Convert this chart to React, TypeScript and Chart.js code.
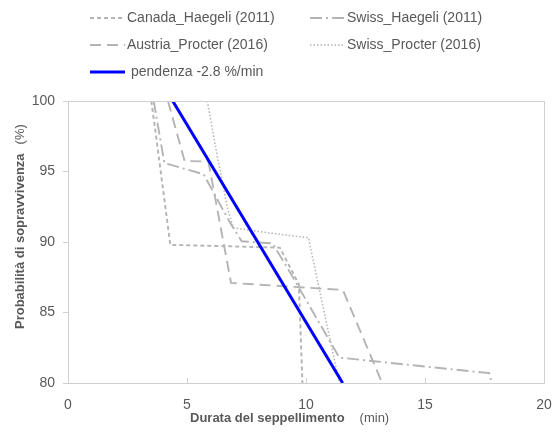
import React, { useEffect, useRef } from "react";
import { Chart, registerables } from "chart.js";
Chart.register(...registerables);

// ---- data (minutes, survival %) ----
const canadaX = [3.5, 3.7, 4.3, 8.9, 9.7, 9.85];
const canadaY = [100, 97.5, 89.8, 89.6, 87.0, 80];

const swissHaegeliX = [3.6, 4.05, 5.7, 6.15, 6.8, 7.3, 8.6, 9.45, 11.4, 17.7, 17.8];
const swissHaegeliY = [100, 95.6, 94.8, 93.4, 91.4, 90.05, 89.9, 87.5, 81.8, 80.7, 80];

const austriaX = [4.2, 4.9, 5.9, 6.85, 11.55, 13.2];
const austriaY = [100, 95.75, 95.7, 87.1, 86.6, 80];

const swissProcterX = [5.85, 6.25, 6.7, 6.95, 8.2, 10.1, 11.4];
const swissProcterY = [100, 96.3, 92.4, 91.0, 90.7, 90.3, 80];

const slopeX = [4.4, 11.54];
const slopeY = [100, 80];

const xTickValues = [0, 5, 10, 15, 20];
const yTickValues = [80, 85, 90, 95, 100];

const labels = [
  "Canada_Haegeli (2011)",
  "Swiss_Haegeli (2011)",
  "Austria_Procter (2016)",
  "Swiss_Procter (2016)",
  "pendenza -2.8 %/min",
];

const pts = (xs: number[], ys: number[]) => xs.map((x, i) => ({ x, y: ys[i] }));

const GREY = "#b4b4b4";
const TEXT = "#595959";
const FONT = "'Liberation Sans', Arial, sans-serif";

export default function App() {
  const ref = useRef<HTMLCanvasElement | null>(null);
  useEffect(() => {
    document.body.style.margin = "0";
    const canvas = ref.current;
    if (!canvas) return;

    const datasets: any[] = [
      { label: labels[0], data: pts(canadaX, canadaY), borderColor: GREY, borderWidth: 1.9, borderDash: [4, 3], order: 1 },
      { label: labels[1], data: pts(swissHaegeliX, swissHaegeliY), borderColor: GREY, borderWidth: 1.9, borderDash: [12, 4, 2, 4], order: 1 },
      { label: labels[2], data: pts(austriaX, austriaY), borderColor: GREY, borderWidth: 1.9, borderDash: [11, 6], order: 1 },
      { label: labels[3], data: pts(swissProcterX, swissProcterY), borderColor: GREY, borderWidth: 1.5, borderDash: [1.5, 2], order: 1 },
      { label: labels[4], data: pts(slopeX, slopeY), borderColor: "#0000ff", borderWidth: 3, borderDash: [], order: 0 },
    ];

    const deco = {
      id: "deco",
      afterDraw(chart: any) {
        const ctx = chart.ctx as CanvasRenderingContext2D;
        const a = chart.chartArea;
        const xs = chart.scales.x;
        ctx.save();
        // plot box
        ctx.strokeStyle = "#d0d0d0";
        ctx.lineWidth = 1;
        ctx.setLineDash([]);
        ctx.strokeRect(Math.round(a.left) + 0.5, Math.round(a.top) + 0.5, Math.round(a.right - a.left), Math.round(a.bottom - a.top));
        // inward x ticks
        xTickValues.slice(1, -1).forEach((v) => {
          const px = Math.round(xs.getPixelForValue(v)) + 0.5;
          ctx.beginPath();
          ctx.moveTo(px, a.bottom);
          ctx.lineTo(px, a.bottom - 5);
          ctx.stroke();
        });
        // legend
        const items = [
          { ds: 0, x: 90, y: 18 },
          { ds: 1, x: 310, y: 18 },
          { ds: 2, x: 90, y: 45 },
          { ds: 3, x: 310, y: 45 },
          { ds: 4, x: 90, y: 72 },
        ];
        ctx.font = `14px ${FONT}`;
        ctx.textBaseline = "middle";
        ctx.textAlign = "left";
        items.forEach((it) => {
          const d = datasets[it.ds];
          ctx.strokeStyle = d.borderColor;
          ctx.lineWidth = d.borderWidth;
          ctx.setLineDash(d.borderDash);
          ctx.beginPath();
          ctx.moveTo(it.x, it.y);
          ctx.lineTo(it.x + 35, it.y);
          ctx.stroke();
          ctx.fillStyle = TEXT;
          ctx.fillText(d.label, it.x + (it.ds === 4 ? 41 : 37), it.y);
        });
        ctx.setLineDash([]);
        // x title
        const t1 = "Durata del seppellimento";
        const t2 = "(min)";
        ctx.font = `bold 13px ${FONT}`;
        const w1 = ctx.measureText(t1).width;
        const gap = 15;
        const sx = 190;
        ctx.fillStyle = TEXT;
        ctx.fillText(t1, sx, 418);
        ctx.font = `13px ${FONT}`;
        ctx.fillText(t2, sx + w1 + gap, 418);
        // y title
        const y1 = "Probabilità di sopravvivenza";
        const y2 = "(%)";
        ctx.font = `bold 13px ${FONT}`;
        const v1 = ctx.measureText(y1).width;
        const g2 = 9;
        ctx.translate(20, 0);
        ctx.rotate(-Math.PI / 2);
        const sy = -329;
        ctx.font = `bold 13px ${FONT}`;
        ctx.fillText(y1, sy, 0);
        ctx.font = `13px ${FONT}`;
        ctx.fillText(y2, sy + v1 + g2, 0);
        ctx.restore();
      },
    };

    const chart = new Chart(canvas, {
      type: "line",
      data: { datasets },
      options: {
        animation: false,
        responsive: false,
        events: [],
        layout: { padding: { top: 101, right: 10, left: 0, bottom: 0 } },
        elements: { point: { radius: 0 }, line: { tension: 0, borderCapStyle: "butt" } },
        plugins: { legend: { display: false }, tooltip: { enabled: false }, title: { display: false } },
        scales: {
          x: {
            type: "linear",
            min: 0,
            max: 20,
            afterBuildTicks: (s: any) => { s.ticks = xTickValues.map((v) => ({ value: v })); },
            afterFit: (s: any) => { s.height = 56; s.paddingLeft = 0; s.paddingRight = 0; },
            grid: { display: false, drawTicks: false },
            border: { display: false },
            ticks: { color: TEXT, font: { size: 14, family: FONT }, padding: 14, maxRotation: 0 },
          },
          y: {
            type: "linear",
            min: 80,
            max: 100,
            afterBuildTicks: (s: any) => { s.ticks = yTickValues.map((v) => ({ value: v })); },
            afterFit: (s: any) => { s.width = 68; s.paddingTop = 0; s.paddingBottom = 0; },
            grid: { drawOnChartArea: false, drawTicks: true, tickLength: 5, color: "#d0d0d0" },
            border: { display: false },
            ticks: { color: TEXT, font: { size: 14, family: FONT }, padding: 8 },
          },
        },
      },
      plugins: [deco],
    });
    return () => chart.destroy();
  }, []);
  return (
    <div style={{ width: 554, height: 439, background: "#fff" }}>
      <canvas ref={ref} width={554} height={439} style={{ display: "block" }} />
    </div>
  );
}
